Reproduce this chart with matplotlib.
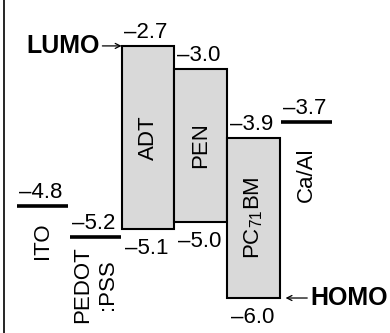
import matplotlib
matplotlib.use("Agg")
import matplotlib.pyplot as plt
from matplotlib.patches import Rectangle
from matplotlib.lines import Line2D

plt.rcParams['font.family'] = ['Liberation Sans', 'DejaVu Sans']
plt.rcParams['mathtext.fontset'] = 'custom'
plt.rcParams['mathtext.rm'] = 'Liberation Sans'
plt.rcParams['mathtext.default'] = 'regular'

# ---- data ----
electrode_names = ["ITO", "PEDOT\n:PSS", "Ca/Al"]
electrode_levels = [-4.8, -5.2, -3.7]
electrode_cols = [0, 1, 5]

semi_names = ["ADT", "PEN", "PC$_{71}$BM"]
semi_lumo = [-2.7, -3.0, -3.9]
semi_homo = [-5.1, -5.0, -6.0]
semi_cols = [2, 3, 4]

def fmt(v):
    return f"{v:.1f}".replace('-', '\u2013')

fig = plt.figure(figsize=(3.9, 3.33), dpi=100)
ax = fig.add_axes([0, 0, 1, 1])
ax.set_xlim(-0.303, 7.083)
ax.set_ylim(-6.458, -2.099)
ax.axis('off')

FS = 16
# electrodes
label_offsets = [-34, -48, -52]
for name, lev, c, off in zip(electrode_names, electrode_levels, electrode_cols, label_offsets):
    ax.plot([c + 0.02, c + 0.98], [lev, lev], color='black', lw=2.6, solid_capstyle='butt')
    ax.annotate(fmt(lev), xy=(c + 0.5, lev), xytext=(-2, 8), textcoords='offset pixels',
                ha='center', va='baseline', fontsize=FS)
    ax.annotate(name, xy=(c + 0.5, lev), xytext=(0, off), textcoords='offset pixels',
                ha='center', va='center', rotation=90, fontsize=FS, multialignment='center',
                linespacing=1.25)

# semiconductors
for name, lu, ho, c in zip(semi_names, semi_lumo, semi_homo, semi_cols):
    ax.add_patch(Rectangle((c, ho), 1, lu - ho, facecolor='#d9d9d9', edgecolor='black', lw=1.5))
    ax.annotate(fmt(lu), xy=(c + 0.5, lu), xytext=(-2, 8), textcoords='offset pixels',
                ha='center', va='baseline', fontsize=FS)
    ax.annotate(fmt(ho), xy=(c + 0.5, ho), xytext=(-1, -9), textcoords='offset pixels',
                ha='center', va='top', fontsize=FS)
    ax.text(c + 0.5, (lu + ho) / 2, name, rotation=90, ha='center', va='center', fontsize=FS)

# LUMO / HOMO labels with arrows
ax.annotate("LUMO", xy=(semi_cols[0], semi_lumo[0]), xytext=(-22, 0), textcoords='offset pixels',
            ha='right', va='center', fontsize=18, fontweight='bold',
            arrowprops=dict(arrowstyle='->', lw=0.9, color='black', shrinkA=0, shrinkB=0,
                            mutation_scale=9))
ax.annotate("HOMO", xy=(semi_cols[2] + 1, semi_homo[2]), xytext=(30, 0), textcoords='offset pixels',
            ha='left', va='center', fontsize=18, fontweight='bold',
            arrowprops=dict(arrowstyle='->', lw=0.9, color='black', shrinkA=0, shrinkB=4,
                            mutation_scale=9))

fig.add_artist(Line2D([0.009, 0.009], [0, 1], transform=fig.transFigure, color='black', lw=1.2))

fig.savefig("out.png", dpi=100)
